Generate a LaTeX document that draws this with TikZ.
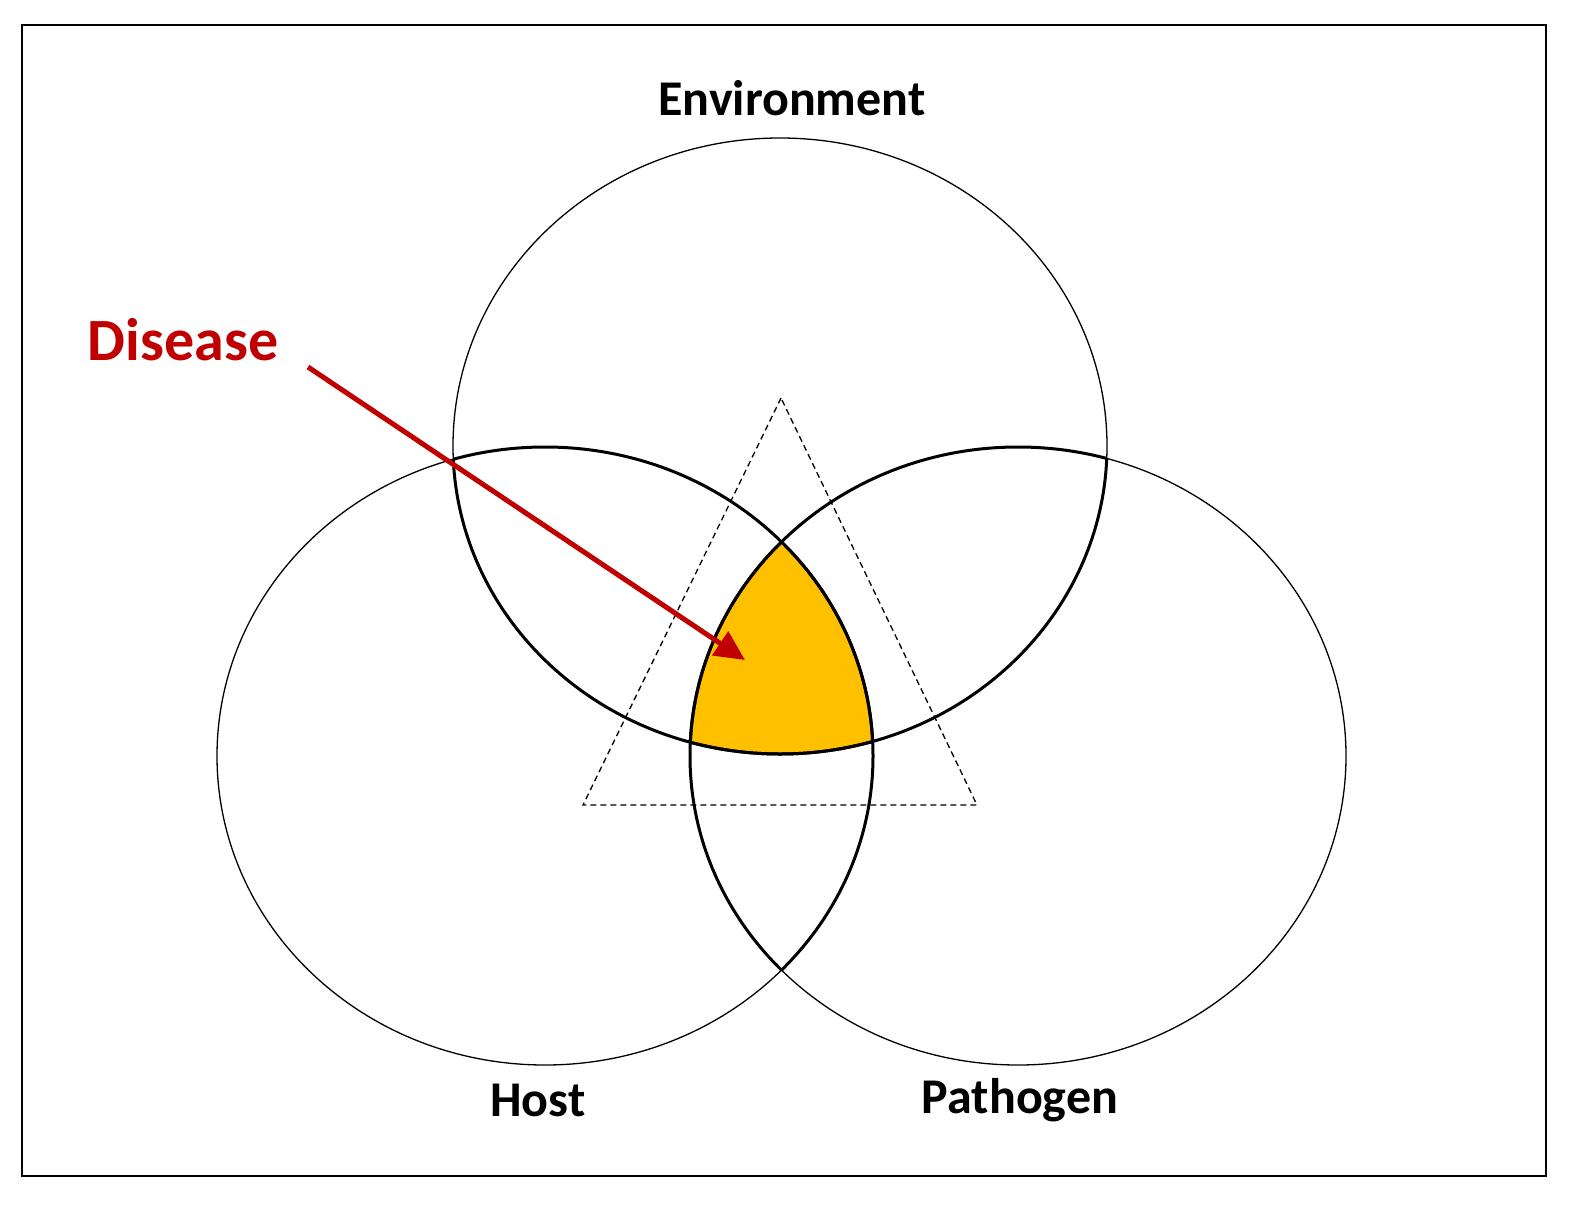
\documentclass[tikz,border=0pt]{standalone}
\usetikzlibrary{arrows.meta}
\usepackage{fontspec}
\setmainfont{Carlito}
\begin{document}
\begin{tikzpicture}[x=1pt,y=-1pt,
  lbl/.style={font=\fontsize{50}{56}\selectfont\bfseries},
  thinline/.style={line width=1.3pt},
  thickline/.style={line width=3pt}]
\useasboundingbox (0,0) rectangle (1571,1207);
\draw[line width=1.5pt] (22,25) rectangle (1546,1176);
\def\myEnv{(780,446) ellipse [x radius=327, y radius=308]}
\def\myHost{(545,756) ellipse [x radius=328, y radius=309]}
\def\myPat{(1018,756) ellipse [x radius=328, y radius=309]}
% yellow fill
\begin{scope}
\clip \myEnv; \clip \myHost;
\fill[fill={rgb,255:red,255;green,192;blue,0}] \myPat;
\end{scope}
% thin outlines
\draw[thinline] \myEnv; \draw[thinline] \myHost; \draw[thinline] \myPat;
% thick inner arcs
\begin{scope}\clip \myHost; \draw[thickline] \myEnv; \draw[thickline] \myPat; \end{scope}
\begin{scope}\clip \myEnv; \draw[thickline] \myHost; \draw[thickline] \myPat; \end{scope}
\begin{scope}\clip \myPat; \draw[thickline] \myEnv; \draw[thickline] \myHost; \end{scope}
% triangle
\coordinate (ta) at (781,398); \coordinate (tb) at (583,805); \coordinate (tc) at (977,805);
\draw[line width=1.3pt, dash pattern=on 6pt off 4pt] (ta) -- (tb) -- (tc) -- cycle;
% labels
\node[lbl] (env) at (792,98) {Environment};
\node[lbl] (host) at (538,1100) {Host};
\node[lbl] (pat) at (1020,1100) {Pathogen};
\node[font=\fontsize{60}{66}\selectfont\bfseries, text={rgb,255:red,192;green,0;blue,0}] (dis) at (183,340) {Disease};
\coordinate (as) at (308,367); \coordinate (ae) at (745,660);
\draw[line width=5pt, color={rgb,255:red,192;green,0;blue,0}, -{Triangle[length=30pt,width=28pt]}] (as) -- (ae);
\end{tikzpicture}
\end{document}
